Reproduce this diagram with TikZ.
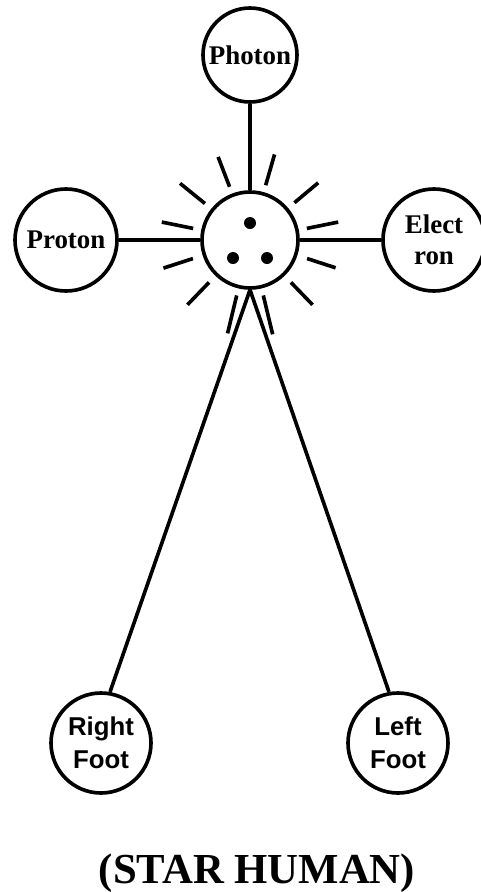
\documentclass[tikz,border=0pt]{standalone}
\usepackage{fontspec}
\setmainfont{Liberation Serif}
\newfontfamily\arialfont{Liberation Sans}
\usetikzlibrary{calc}
\tikzset{
main node/.style={circle,draw,line width=3.1pt,inner sep=0pt,align=center,
  font=\fontsize{23}{26.4}\selectfont\bfseries},
piede/.style={main node,minimum size=3cm,font=\arialfont\bfseries\fontsize{22}{28}\selectfont},
linea/.style={line width=3.1pt},
raggio/.style={line width=3.1pt}}

\begin{document}
\begin{tikzpicture}[x=0.03cm,y=-0.03cm]
\useasboundingbox (0,0) rectangle (481,892);

\node[main node,minimum size=2.88cm] (c) at (250,240) {};
\node[main node,minimum size=2.82cm] (1) at (250,55) {Photon};
\node[main node,minimum size=3.06cm] (2) at (66,240) {Proton};
\node[main node,minimum size=3.06cm] (3) at (434,240) {Elect\\ron};
\node[piede] (4) at (101,743) {Right\\Foot};
\node[piede] (5) at (398,743) {Left\\Foot};

\node[anchor=base,font=\fontsize{36.5}{40}\selectfont\bfseries] (titolo) at (257,883) {(STAR HUMAN)};

% the three dots
\fill (c) ++(0,-17) circle (6);
\fill (c) ++(-17,18) circle (6);
\fill (c) ++(17,18) circle (6);

% rays around the center
\foreach \a/\ri/\ro in {249/57/89,286/57/89,219/58/90,320/58/89,
  191.5/58/90,348.5/58/90,162/60/91,18/60/90,134/59/90,46/59/90,
  103.5/57/96,76.5/57/97}
  \draw[raggio] ($(c)+(\a:\ri)$) -- ($(c)+(\a:\ro)$);

\path[linea]
	(1) edge (c)
	(2) edge (c)
	(3) edge (c)
	(c.south) edge (4.80)
	(c.south) edge (5.100);
\end{tikzpicture}
\end{document}
